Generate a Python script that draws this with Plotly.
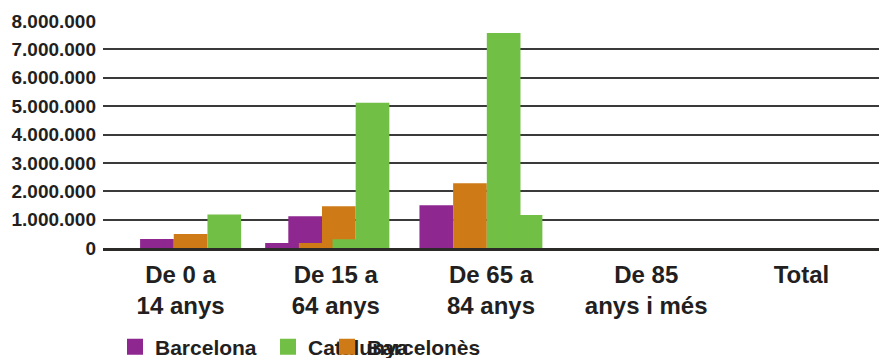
import plotly.graph_objects as go

# ---- data ----
categories = ["De 0 a<br>14 anys", "De 15 a<br>64 anys", "De 65 a<br>84 anys",
              "De 85<br>anys i més", "Total"]
series_names = ["Barcelona", "Barcelonès", "Catalunya"]

# front layer of bars
barcelona_a = [320000, 1120000, 1510000, None, None]
barcelones_a = [490000, 1470000, 2280000, None, None]
catalunya_a = [1180000, 5120000, 7580000, None, None]
# second (shifted) layer of bars
barcelona_b = [None, 180000, None, None, None]
barcelones_b = [None, 180000, None, None, None]
catalunya_b = [None, 310000, 1160000, None, None]

y_ticks = [0, 1000000, 2000000, 3000000, 4000000, 5000000, 6000000, 7000000, 8000000]

# ---- styling / placement ----
colors = {"Barcelona": "#8E278F", "Barcelonès": "#CD7A17", "Catalunya": "#72BF45"}
BAR_W = 0.217
shift_a = [-0.261, -0.306, -0.461, 0.0, 0.0]
shift_b = [0.0, -0.455, -0.32, 0.0, 0.0]
FONT = "Liberation Sans"
TXT = "#231F20"

fig = go.Figure()

layers = [
    (shift_a, [barcelona_a, barcelones_a, catalunya_a]),
    (shift_b, [barcelona_b, barcelones_b, catalunya_b]),
]
for shift, vals in layers:
    for k, (name, v) in enumerate(zip(series_names, vals)):
        fig.add_trace(go.Bar(
            x=categories, y=v, name=name,
            offset=[s + k * BAR_W for s in shift], width=BAR_W,
            marker=dict(color=colors[name], line=dict(width=0)),
            showlegend=False, hoverinfo="skip",
        ))

# legend entries (one legend per entry, placed like the reference)
legend_ids = {"Barcelona": "legend", "Catalunya": "legend2", "Barcelonès": "legend3"}
for name in ["Barcelona", "Catalunya", "Barcelonès"]:
    fig.add_trace(go.Scatter(
        x=[None], y=[None], mode="markers", name=name,
        marker=dict(symbol="square", size=16, color=colors[name]),
        legend=legend_ids[name], showlegend=True,
    ))

W, H = 883, 358
def leg(xpx, ypx):
    return dict(x=xpx / W, y=1 - ypx / H, xref="container", yref="container",
                xanchor="left", yanchor="middle", bgcolor="rgba(0,0,0,0)",
                font=dict(family=FONT, size=21, color=TXT, weight="bold"),
                itemsizing="trace")

fig.update_layout(
    width=W, height=H,
    margin=dict(l=103, r=4, t=21, b=110, autoexpand=False),
    paper_bgcolor="white", plot_bgcolor="white",
    barmode="overlay", separators=",.",
    font=dict(family=FONT, color=TXT),
    legend=leg(115, 347), legend2=leg(268, 347), legend3=leg(327, 347),
    xaxis=dict(
        type="category", range=[-0.5, 4.5], showgrid=False,
        showline=True, linecolor="#2B2A29", linewidth=3,
        ticks="", tickangle=0, automargin=False,
        tickfont=dict(family=FONT, size=24, color=TXT, weight="bold"),
        ticklabelstandoff=3,
    ),
    yaxis=dict(
        range=[0, 8000000], tickvals=y_ticks, tickformat=",d",
        showgrid=True, gridcolor="#3A3A3A", gridwidth=1.8,
        zeroline=False, showline=False, ticks="", automargin=False,
        tickfont=dict(family=FONT, size=19, color=TXT, weight="bold"),
        ticklabelstandoff=6,
    ),
)

fig.write_html("out.html")
